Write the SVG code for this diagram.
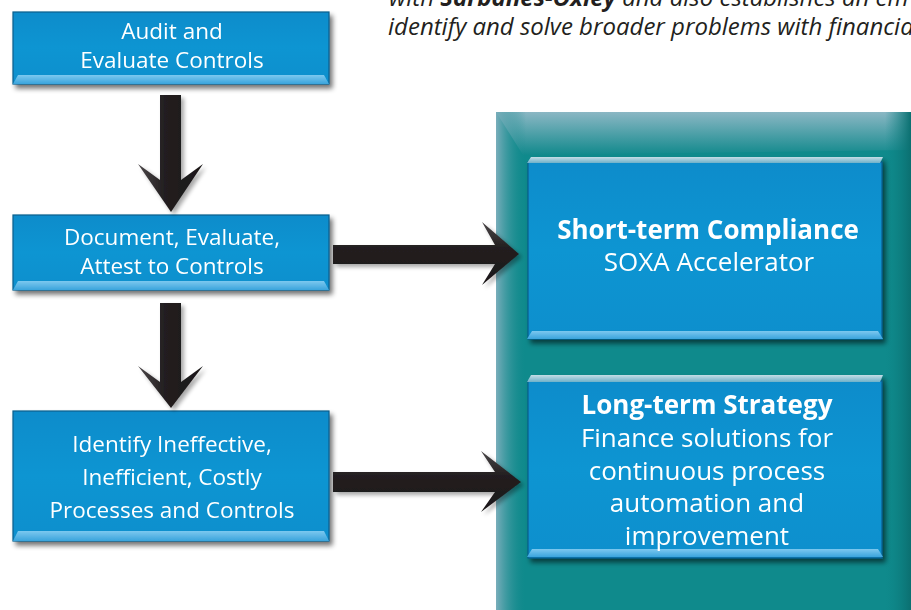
<svg xmlns="http://www.w3.org/2000/svg" width="911" height="610" viewBox="0 0 911 610">
<defs>
  <linearGradient id="boxFill" x1="0" y1="0" x2="0" y2="1">
    <stop offset="0" stop-color="#0a8ccb"/>
    <stop offset="0.5" stop-color="#0995d2"/>
    <stop offset="1" stop-color="#0a8fcd"/>
  </linearGradient>
  <linearGradient id="bevelBot" x1="0" y1="0" x2="0" y2="1">
    <stop offset="0" stop-color="#7cc8ef"/>
    <stop offset="1" stop-color="#3aa4dc"/>
  </linearGradient>
  <linearGradient id="bevelTop" x1="0" y1="0" x2="0" y2="1">
    <stop offset="0" stop-color="#c4dde6"/>
    <stop offset="1" stop-color="#6fb1c9"/>
  </linearGradient>
  <linearGradient id="contTop" x1="0" y1="0" x2="0" y2="1">
    <stop offset="0" stop-color="#8bb7c4"/>
    <stop offset="1" stop-color="#11898c"/>
  </linearGradient>
  <linearGradient id="contLeft" x1="0" y1="0" x2="1" y2="0">
    <stop offset="0" stop-color="#7aaebb"/>
    <stop offset="1" stop-color="#12898c" stop-opacity="0"/>
  </linearGradient>
  <linearGradient id="contRight" x1="0" y1="0" x2="1" y2="0">
    <stop offset="0" stop-color="#0d8486" stop-opacity="0"/>
    <stop offset="1" stop-color="#0b6f70"/>
  </linearGradient>
  <linearGradient id="arrowV" x1="0" y1="0" x2="1" y2="0">
    <stop offset="0" stop-color="#4a4648"/>
    <stop offset="0.4" stop-color="#231f20"/>
    <stop offset="1" stop-color="#1a1718"/>
  </linearGradient>
  <linearGradient id="arrowH" x1="0" y1="0" x2="0" y2="1">
    <stop offset="0" stop-color="#4a4648"/>
    <stop offset="0.4" stop-color="#231f20"/>
    <stop offset="1" stop-color="#1a1718"/>
  </linearGradient>
  <filter id="shadow" x="-10%" y="-10%" width="125%" height="135%">
    <feGaussianBlur in="SourceAlpha" stdDeviation="2.5"/>
    <feOffset dx="3" dy="4" result="b"/>
    <feComponentTransfer><feFuncA type="linear" slope="0.55"/></feComponentTransfer>
    <feMerge><feMergeNode/><feMergeNode in="SourceGraphic"/></feMerge>
  </filter>
  <filter id="ashadow" x="-20%" y="-20%" width="150%" height="150%">
    <feGaussianBlur in="SourceAlpha" stdDeviation="2"/>
    <feOffset dx="3" dy="3" result="b"/>
    <feComponentTransfer><feFuncA type="linear" slope="0.35"/></feComponentTransfer>
    <feMerge><feMergeNode/><feMergeNode in="SourceGraphic"/></feMerge>
  </filter>
</defs>
<style>
  .box { fill: url(#boxFill); stroke: #0a5d8c; stroke-width: 1.2; }
  .bot { fill: url(#bevelBot); }
  .top { fill: url(#bevelTop); }
  .lbl { font-family: "Open Sans", "Liberation Sans", sans-serif; fill: #ffffff; text-anchor: middle; }
  .l1 { font-size: 22.5px; }
  .big { font-size: 26px; }
  .bold { font-weight: bold; font-size: 26px; }
  .head { font-family: "Open Sans", "Liberation Sans", sans-serif; font-style: italic; font-size: 24px; fill: #231f20; }
  .arrV { fill: url(#arrowV); }
  .arrH { fill: url(#arrowH); }
</style>
<rect width="911" height="610" fill="#ffffff"/>

<text class="head" x="389" y="6">with <tspan font-weight="bold">Sarbanes-Oxley</tspan> and also establishes an em</text>
<text class="head" x="388" y="35">identify and solve broader problems with financia</text>

<g id="container">
  <rect x="496" y="112" width="420" height="500" fill="#0f8a8c"/>
  <polygon points="496,112 911,112 911,150 523,155" fill="url(#contTop)"/>
  <rect x="496" y="112" width="30" height="498" fill="url(#contLeft)"/>
  <rect x="885" y="112" width="26" height="498" fill="url(#contRight)"/>
</g>

<g id="audit" filter="url(#shadow)">
  <rect class="box" x="13" y="12" width="316" height="72"/>
  <polygon class="bot" points="18,75 324,75 329,84 13,84"/>
  <text class="lbl l1" x="172" y="39">Audit and</text>
  <text class="lbl l1" x="172" y="68">Evaluate Controls</text>
</g>

<g id="document" filter="url(#shadow)">
  <rect class="box" x="13" y="215" width="316" height="75"/>
  <polygon class="bot" points="18,281 324,281 329,290 13,290"/>
  <text class="lbl l1" x="172" y="245">Document, Evaluate,</text>
  <text class="lbl l1" x="172" y="274">Attest to Controls</text>
</g>

<g id="identify" filter="url(#shadow)">
  <rect class="box" x="13" y="411" width="316" height="130"/>
  <polygon class="bot" points="18,531 324,531 329,541 13,541"/>
  <text class="lbl l1" x="172" y="452">Identify Ineffective,</text>
  <text class="lbl l1" x="172" y="485">Inefficient, Costly</text>
  <text class="lbl l1" x="172" y="518">Processes and Controls</text>
</g>

<g id="shortterm" filter="url(#shadow)">
  <rect class="box" x="528" y="162" width="354" height="177" stroke="none"/>
  <polygon class="top" points="531,157 883,157 880,163 527,163"/>
  <polygon class="bot" points="532,331 878,331 883,339 527,339"/>
  <text class="lbl bold" x="708" y="239">Short-term Compliance</text>
  <text class="lbl big" x="709" y="271">SOXA Accelerator</text>
</g>

<g id="longterm" filter="url(#shadow)">
  <rect class="box" x="528" y="381" width="354" height="177" stroke="none"/>
  <polygon class="top" points="531,375 883,375 880,382 527,382"/>
  <polygon class="bot" points="532,549 878,549 883,557 527,557"/>
  <text class="lbl bold" x="707" y="414">Long-term Strategy</text>
  <text class="lbl big" x="707" y="447">Finance solutions for</text>
  <text class="lbl big" x="707" y="480">continuous process</text>
  <text class="lbl big" x="707" y="512">automation and</text>
  <text class="lbl big" x="707" y="545">improvement</text>
</g>

<g id="connectors" filter="url(#ashadow)">
  <path class="arrV" d="M160,95 L181,95 L181,180 L203,164 L171,212 L138,164 L160,180 Z"/>
  <path class="arrV" d="M160,303 L181,303 L181,382 L203,366 L171,408 L138,366 L160,382 Z"/>
  <path class="arrH" d="M333,245 L495,245 L482,222 L519,254 L482,285 L495,264 L333,264 Z"/>
  <path class="arrH" d="M333,472 L495,472 L481,451 L521,482 L481,512 L495,492 L333,492 Z"/>
</g>
</svg>
